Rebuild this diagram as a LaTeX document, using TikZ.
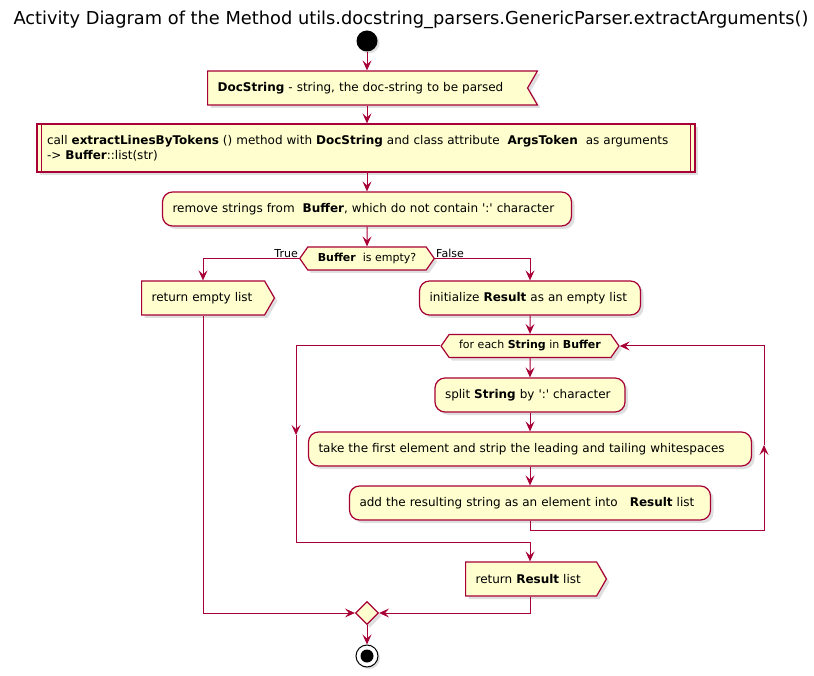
\documentclass[tikz,border=0pt]{standalone}
\usepackage{fontspec}
\setmainfont{DejaVu Sans}
\usetikzlibrary{positioning,shapes.geometric,shapes.symbols,shadows,arrows.meta}
\definecolor{umlred}{HTML}{A80036}
\definecolor{umlfill}{HTML}{FEFECE}
\tikzset{base/.style={draw=umlred,fill=umlfill,line width=1.2pt,inner xsep=10pt,inner ysep=0pt,
		font=\fontsize{12}{15}\selectfont,drop shadow={shadow xshift=3pt,shadow yshift=-3pt,opacity=.25}},
	action/.style={base,rectangle,rounded corners=10pt,minimum height=34pt,align=left},
	call box/.style={base,rectangle,minimum height=48pt,align=left},
	receive/.style={base,signal,signal from=east,signal to=nowhere,signal pointer angle=120,minimum height=34pt,align=left},
	send/.style={base,signal,signal to=east,signal pointer angle=120,minimum height=34pt,align=left},
	cond/.style={base,signal,signal to=east and west,signal pointer angle=110,minimum height=23pt,font=\fontsize{11}{13}\selectfont},
	merge node/.style={base,diamond,minimum size=23pt,inner xsep=0pt},
	start node/.style={circle,fill=black,minimum size=21pt,inner sep=0pt,drop shadow={shadow xshift=2pt,shadow yshift=-2pt,opacity=.25}},
	stop node/.style={circle,draw=black,line width=1pt,fill=white,minimum size=22pt,inner sep=0pt,
		drop shadow={shadow xshift=2pt,shadow yshift=-2pt,opacity=.25},
		path picture={\fill[black] (path picture bounding box.center) circle (6.5pt);}},
	flow/.style={draw=umlred,line width=1pt,-{Stealth[length=10pt,width=9pt,inset=4pt]}},
	lbl/.style={font=\fontsize{11}{13}\selectfont,inner sep=1pt},
}

\begin{document}
\begin{tikzpicture}[x=1pt,y=-1pt]
	\useasboundingbox (0,0) rectangle (814,676);
	\node[font=\fontsize{17.8}{20}\selectfont] (title) at (411,20) {Activity Diagram of the Method utils.docstring\_parsers.GenericParser.extractArguments()};

	\node[start node] (start) at (367,41) {};
	\node[receive,anchor=west,text width=300pt] (input) at (207,88) {\textbf{DocString} - string, the doc-string to be parsed};
	\node[call box,text width=638pt] (call) at (366,148) {call \textbf{extractLinesByTokens} () method with \textbf{DocString} and class attribute~ \textbf{ArgsToken}~ as arguments\\-> \textbf{Buffer}::list(str)};
	\draw[umlred,line width=1.2pt] ([xshift=5pt]call.north west) -- ([xshift=5pt]call.south west)
		([xshift=-5pt]call.north east) -- ([xshift=-5pt]call.south east);
	\node[action,text width=389pt] (remove) at (367,209) {remove strings from~ \textbf{Buffer}, which do not contain \textquotesingle:\textquotesingle\ character};
	\node[cond,minimum width=123pt] (check) at (367,258.5) {\textbf{Buffer}~ is empty?};
	\node[lbl,anchor=south east] (yes label) at (check.west) {True};
	\node[lbl,anchor=south west] (no label) at (check.east) {False};

	\node[send,anchor=west,text width=103pt] (retempty) at (141,298) {return empty list};
	\node[action,text width=201pt] (init) at (530,298) {initialize \textbf{Result} as an empty list};
	\node[cond,minimum width=169pt] (loop) at (530,346) {for each \textbf{String} in \textbf{Buffer}};
	\node[action,text width=170pt] (split) at (530,395) {split \textbf{String} by \textquotesingle:\textquotesingle\ character};
	\node[action,text width=423pt] (take) at (530,449) {take the first element and strip the leading and tailing whitespaces};
	\node[action,text width=341pt] (add) at (530,503) {add the resulting string as an element into~~ \textbf{Result} list};
	\node[send,anchor=west,text width=111pt] (retres) at (465,579) {return \textbf{Result} list};
	\node[merge node] (merge) at (367,613) {};
	\node[stop node] (stop) at (367,656) {};

	\coordinate (yes) at (203,258.5);
	\coordinate (back) at (764,445);
	\coordinate (skip) at (296,435);
	\coordinate (join) at (530,542);

	\path[every edge/.style={flow}]
	(start) edge (start |- input.north)
	(start |- input.south) edge (start |- call.north)
	(call.south -| start) edge (remove.north -| start)
	(remove) edge (check)
	(init) edge (loop)
	(loop) edge (split)
	(split) edge (take)
	(take) edge (add)
	(merge) edge (stop)
	;
	\draw[flow] (check.west) -- (yes) -- (yes |- retempty.north);
	\draw[flow] (check.east) -| (init);
	\draw[flow] (add.south) -- ++(0,10) -| (back);
	\draw[flow] (back) |- (loop.east);
	\draw[flow] (loop.west) -| (skip);
	\draw[flow] (skip) |- (join) -- (join |- retres.north);
	\draw[flow] (yes |- retempty.south) |- (merge.west);
	\draw[flow] (join |- retres.south) |- (merge.east);
\end{tikzpicture}
\end{document}
